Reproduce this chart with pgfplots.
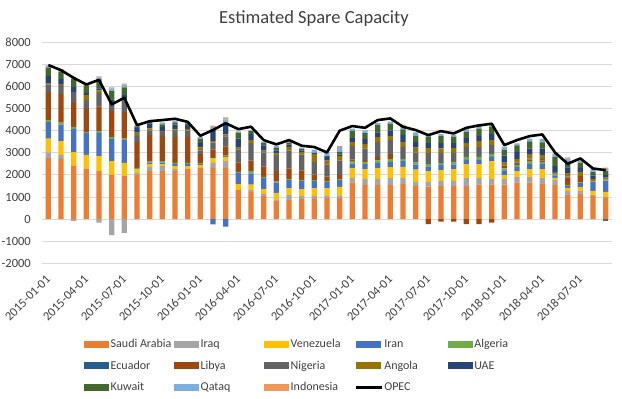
\documentclass[border=0pt]{standalone}
\usepackage{pgfplots}
\pgfplotsset{compat=1.18}
\usepackage{pgfplotstable}
\usepackage{fontspec}
\setmainfont{Carlito}
\definecolor{csa}{HTML}{ED7D31}
\definecolor{ciq}{HTML}{A5A5A5}
\definecolor{cve}{HTML}{FFC000}
\definecolor{cir}{HTML}{4472C4}
\definecolor{cal}{HTML}{70AD47}
\definecolor{cec}{HTML}{255E91}
\definecolor{cly}{HTML}{9E480E}
\definecolor{cng}{HTML}{636363}
\definecolor{can}{HTML}{997300}
\definecolor{cua}{HTML}{264478}
\definecolor{ckw}{HTML}{43682B}
\definecolor{cqa}{HTML}{7CAFDD}
\definecolor{cid}{HTML}{F1975A}
\definecolor{gridc}{HTML}{D9D9D9}
\definecolor{txt}{HTML}{404040}
\newcommand\LE[1]{\makebox[62bp][l]{#1}}

\pgfplotstableread{
x  sa   iq  ve  ir   al  ec ly   ng  an  ua  kw  qa  id  opec
0  2760 255 630 740  90  0  1270 350 60  330 360 75  40  6970
1  2730 180 620 740  90  0  1300 400 45  240 320 75  45  6740
2  2410 0   620 1055 90  0  1085 480 20  210 360 60  30  6390
3  2280 0   630 995  45  0  1040 390 225 105 345 30  0   6090
4  2170 0   680 1055 90  0  1100 620 105 90  410 90  45  6300
5  1990 0   630 1010 75  0  1190 405 0   105 390 120 45  5190
6  1945 0   600 1025 75  0  1190 530 0   240 360 120 45  5490
7  1990 105 150 30   45  0  1175 270 150 210 75  45  0   4250
8  2185 180 120 75   45  0  1190 225 90  210 75  0   60  4430
9  2170 225 90  75   60  0  1130 195 45  180 120 90  0   4480
10 2170 90  135 105  45  0  1175 270 75  210 105 75  0   4540
11 2260 0   135 90   60  0  1175 285 75  135 90  90  0   4400
12 2320 0   120 60   45  0  390  180 135 195 195 75  0   3770
13 2320 225 195 0    30  0  375  315 75  530 0   105 60  4030
14 2320 300 195 30   30  0  420  450 90  510 0   165 90  4340
15 1310 0   270 510  45  0  435  590 75  405 270 60  0   4070
16 1220 90  255 500  105 0  480  785 135 270 165 0   0   4180
17 1040 105 210 510  45  0  480  620 90  240 105 60  0   3575
18 845  45  300 465  45  0  465  695 105 150 105 90  0   3380
19 860  225 300 375  60  0  465  830 150 105 90  60  0   3575
20 920  135 300 360  60  0  435  710 120 75  60  60  0   3320
21 920  120 345 345  30  0  255  575 360 45  0   150 0   3260
22 950  105 330 285  45  0  210  545 180 150 45  165 0   3015
23 980  90  390 300  45  0  180  665 195 75  135 210 45  4000
24 1645 225 435 210  120 0  60   605 180 180 330 105 0   4210
25 1540 270 450 225  105 0  75   530 195 225 270 135 0   4130
26 1540 270 500 225  120 0  165  665 225 210 330 90  0   4480
27 1540 315 500 225  135 0  225  635 180 255 300 105 0   4555
28 1585 270 510 255  90  0  0    545 240 300 270 150 60  4175
29 1495 180 560 225  90  0  0    470 210 255 285 150 0   4030
30 1465 210 500 210  105 0  0    500 225 225 285 135 0   3800
31 1495 240 480 225  90  0  0    470 195 240 315 105 0   3980
32 1495 240 530 195  90  0  0    450 210 225 285 90  0   3875
33 1495 360 635 195  135 0  0    435 180 225 285 120 0   4130
34 1555 300 635 195  135 0  0    435 270 240 330 135 60  4240
35 1555 255 815 195  120 0  0    405 240 255 345 90  45  4315
36 1555 255 180 210  90  0  105  30  135 315 270 135 0   3350
37 1645 255 270 195  75  0  60   60  150 315 315 90  0   3575
38 1645 255 360 225  135 0  75   45  195 255 330 120 0   3755
39 1585 270 405 225  90  0  75   60  195 300 270 150 0   3830
40 1540 240 90  90   60  0  45   75  0   255 420 150 0   3015
41 1085 195 135 90   45  0  330  45  150 270 210 180 60  2505
42 1130 135 180 180  30  0  300  0   180 180 240 105 0   2745
43 1040 45  195 390  30  0  0    0   120 150 150 150 0   2290
44 965  45  225 510  45  0  0    0   90  105 180 105 60  2215
}\pos

\pgfplotsset{
  myaxis/.style={
    at={(42bp,135.7bp)}, anchor=south west, scale only axis,
    width=570bp, height=221bp,
    xmin=-0.5, xmax=44.5, ymin=-2000, ymax=8000,
  },
}

\begin{document}
\begin{tikzpicture}
\useasboundingbox (0,0) rectangle (622bp,399bp);
\begin{axis}[
  myaxis,
  ybar stacked, bar width=5.2bp,
  axis line style={draw=none}, major tick length=0pt,
  ymajorgrids, grid style={color=gridc, line width=0.8bp},
  ytick={-2000,-1000,...,8000},
  yticklabels={-2000,-1000,0,1000,2000,3000,4000,5000,6000,7000,8000},
  xtick={0,3,...,42},
  xticklabels={2015-01-01,2015-04-01,2015-07-01,2015-10-01,2016-01-01,2016-04-01,2016-07-01,2016-10-01,2017-01-01,2017-04-01,2017-07-01,2017-10-01,2018-01-01,2018-04-01,2018-07-01},
  tick label style={font=\fontsize{12.5bp}{14bp}\selectfont, text=txt},
  yticklabel style={inner sep=0pt, xshift=-11bp},
  xticklabel style={rotate=45, anchor=east, inner sep=0pt},
  xticklabel shift=14bp,
  legend columns=5,
  legend style={draw=none, fill=none, at={(0.0737,-0.34)}, anchor=north west,
    font=\fontsize{12bp}{14bp}\selectfont, text=txt,
    column sep=0pt, row sep=10bp, inner sep=0pt,
    nodes={inner xsep=1.5bp, inner ysep=0pt, text height=9bp, text depth=2.5bp}},
  legend cell align=left,
  legend image code/.code={\fill[#1] (0bp,-3.5bp) rectangle (25bp,3.5bp);},
]
\addplot[fill=csa, draw=none] table[x=x,y=sa]{\pos};
\addplot[fill=ciq, draw=none] table[x=x,y=iq]{\pos};
\addplot[fill=cve, draw=none] table[x=x,y=ve]{\pos};
\addplot[fill=cir, draw=none] table[x=x,y=ir]{\pos};
\addplot[fill=cal, draw=none] table[x=x,y=al]{\pos};
\addplot[fill=cec, draw=none] table[x=x,y=ec]{\pos};
\addplot[fill=cly, draw=none] table[x=x,y=ly]{\pos};
\addplot[fill=cng, draw=none] table[x=x,y=ng]{\pos};
\addplot[fill=can, draw=none] table[x=x,y=an]{\pos};
\addplot[fill=cua, draw=none] table[x=x,y=ua]{\pos};
\addplot[fill=ckw, draw=none] table[x=x,y=kw]{\pos};
\addplot[fill=cqa, draw=none] table[x=x,y=qa]{\pos};
\addplot[fill=cid, draw=none] table[x=x,y=id]{\pos};
\addlegendimage{legend image code/.code={\draw[black, line width=2.6bp] (0bp,0bp) -- (26bp,0bp);}}
\legend{\LE{Saudi Arabia},\LE{Iraq},\LE{Venezuela},\LE{Iran},\LE{Algeria},
  \LE{Ecuador},\LE{Libya},\LE{Nigeria},\LE{Angola},\LE{UAE},
  \LE{Kuwait},\LE{Qataq},\LE{Indonesia},\LE{OPEC}}
\end{axis}
\begin{axis}[myaxis, hide axis]
\addplot[ybar, bar width=5.2bp, bar shift=0pt, fill=ciq, draw=none] coordinates {(2,-75) (4,-165) (5,-725) (6,-620)};
\addplot[ybar, bar width=5.2bp, bar shift=0pt, fill=cir, draw=none] coordinates {(13,-240) (14,-345)};
\addplot[ybar, bar width=5.2bp, bar shift=0pt, fill=cly, draw=none] coordinates {(30,-225) (31,-120) (32,-120) (33,-225) (34,-225) (35,-165)};
\addplot[ybar, bar width=5.2bp, bar shift=0pt, fill=cng, draw=none] coordinates {(44,-105)};
\addplot[black, line width=2.6bp, line join=round, mark=none] table[x=x,y=opec]{\pos};
\end{axis}
\node[font=\fontsize{18.5bp}{22bp}\selectfont, text=txt] at (314bp,380bp) {Estimated Spare Capacity};
\end{tikzpicture}
\end{document}
